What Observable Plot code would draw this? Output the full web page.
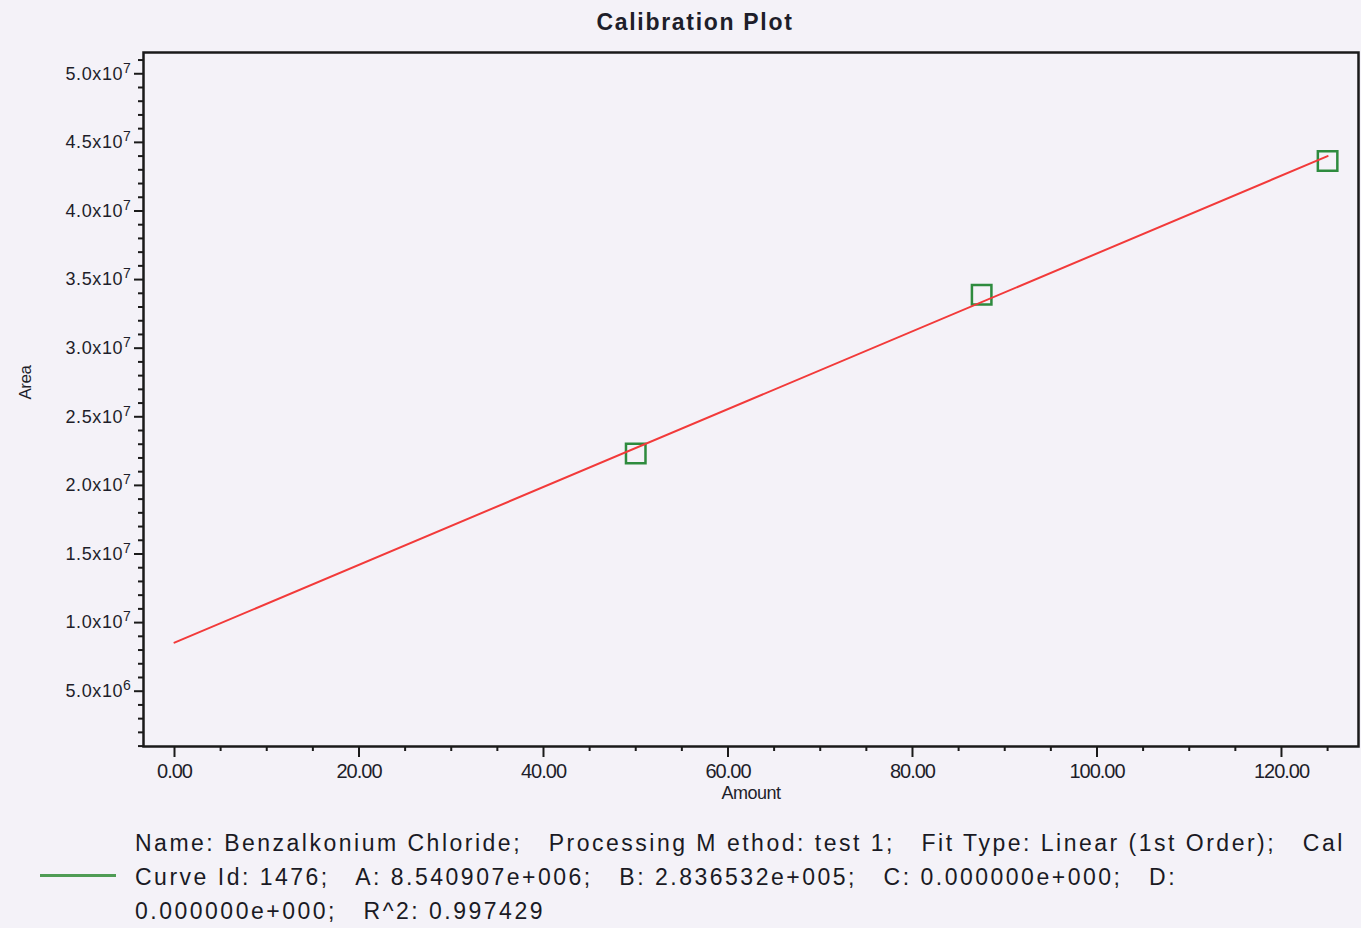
<!DOCTYPE html>
<html>
<head>
<meta charset="utf-8">
<script src="https://cdn.jsdelivr.net/npm/d3@7"></script>
<script src="https://cdn.jsdelivr.net/npm/@observablehq/plot@0.6"></script>
<style>
  html, body { margin: 0; padding: 0; }
  body { width: 1361px; height: 928px; overflow: hidden; position: relative; background: #f4f2f8; font-family: "Liberation Sans", Arial, sans-serif; color: #1e1e28; }
  #title { position: absolute; left: 0; top: 0; width: 1390px; height: 44px; line-height: 44px; text-align: center; font-weight: bold; font-size: 23px; letter-spacing: 1.7px; color: #1e1e2a; }
  #chart { position: absolute; left: 0; top: 40px; }
  #legend-swatch { position: absolute; left: 40px; top: 874px; width: 76px; height: 3px; background: #4f9c55; }
  #legend { position: absolute; left: 135px; top: 826px; font-size: 23px; line-height: 34px; white-space: pre; letter-spacing: 2.5px; color: #1a1a24; }
</style>
</head>
<body>
<div id="title">Calibration Plot</div>
<div id="chart"></div>
<div id="legend-swatch"></div>
<div id="legend"></div>
<script>
// Data
const amount = [50, 87.5, 125];
const area = [22330000, 33900000, 43650000];
const fitAmount = [0, 125];
const fitArea = [8540907, 43997557];

// Tick values and labels
const xMajor = [0, 20, 40, 60, 80, 100, 120];
const xMinor = [5, 10, 15, 25, 30, 35, 45, 50, 55, 65, 70, 75, 85, 90, 95, 105, 110, 115, 125];
const yMajor = [5e6, 10e6, 15e6, 20e6, 25e6, 30e6, 35e6, 40e6, 45e6, 50e6];
const yTickLabels = ["5.0x10^6", "1.0x10^7", "1.5x10^7", "2.0x10^7", "2.5x10^7", "3.0x10^7", "3.5x10^7", "4.0x10^7", "4.5x10^7", "5.0x10^7"];
const yMinor = d3.range(1e6, 51.5e6, 1e6).filter(v => v % 5e6 !== 0);

const legendLines = [
  "Name: Benzalkonium Chloride;   Processing M ethod: test 1;   Fit Type: Linear (1st Order);   Cal",
  "Curve Id: 1476;   A: 8.540907e+006;   B: 2.836532e+005;   C: 0.000000e+000;   D:",
  "0.000000e+000;   R^2: 0.997429"
];

const points = amount.map((a, i) => ({amount: a, area: area[i]}));
const fit = fitAmount.map((a, i) => ({amount: a, area: fitArea[i]}));
const yLabelMap = new Map(yMajor.map((v, i) => [v, yTickLabels[i]]));

const chart = Plot.plot({
  width: 1361,
  height: 772,
  marginTop: 12,
  marginLeft: 143,
  marginRight: 3,
  marginBottom: 66,
  style: {background: "transparent", fontFamily: "'Liberation Sans', Arial, sans-serif", color: "#1e1e2a"},
  x: {domain: [-3.36, 128.35]},
  y: {domain: [0.97e6, 51.55e6]},
  marks: [
    Plot.axisY(yMinor, {tickSize: 5, text: null, strokeWidth: 2, label: null, stroke: "#1a1a1a"}),
    Plot.axisY(yMajor, {tickSize: 9, tickPadding: 3, tickFormat: d => yLabelMap.get(d), fontSize: 18, strokeWidth: 2, label: null, stroke: "#1a1a1a", fill: "#1e1e2a"}),
    Plot.axisX(xMinor, {tickSize: 5, text: null, strokeWidth: 2, label: null, stroke: "#1a1a1a"}),
    Plot.axisX(xMajor, {tickSize: 11, tickPadding: 6, tickFormat: d => d.toFixed(2), fontSize: 20, strokeWidth: 2, label: null, stroke: "#1a1a1a", fill: "#1e1e2a"}),
    Plot.frame({stroke: "#1a1a1a", strokeWidth: 2.5}),
    Plot.text(["Area"], {frameAnchor: "left", dx: -118, rotate: -90, fontSize: 17, fill: "#1e1e2a"}),
    Plot.text(["Amount"], {frameAnchor: "bottom", dy: 52, fontSize: 18, fill: "#1e1e2a"}),
    Plot.dot(points, {x: "amount", y: "area", symbol: "square", r: 11, stroke: "#2e8b3e", strokeWidth: 2.5, fill: "none"}),
    Plot.line(fit, {x: "amount", y: "area", stroke: "#f23a3a", strokeWidth: 2})
  ]
});
document.getElementById("chart").appendChild(chart);
d3.select(chart).selectAll("g[aria-label='x-axis tick label'] text").style("letter-spacing", "-1px");
d3.select(chart).selectAll("g[aria-label='text'] text").style("letter-spacing", "-0.5px");
// Render the y tick exponents as raised superscripts
d3.select(chart).selectAll("g[aria-label='y-axis tick label'] text").each(function() {
  const t = d3.select(this);
  const parts = t.text().split("^");
  if (parts.length !== 2) return;
  t.text(null).style("letter-spacing", "0.6px");
  t.append("tspan").text(parts[0]);
  t.append("tspan").attr("dy", "-0.5em").attr("font-size", "14px").text(parts[1]);
});

document.getElementById("legend").textContent = legendLines.join("\n");
</script>
</body>
</html>
